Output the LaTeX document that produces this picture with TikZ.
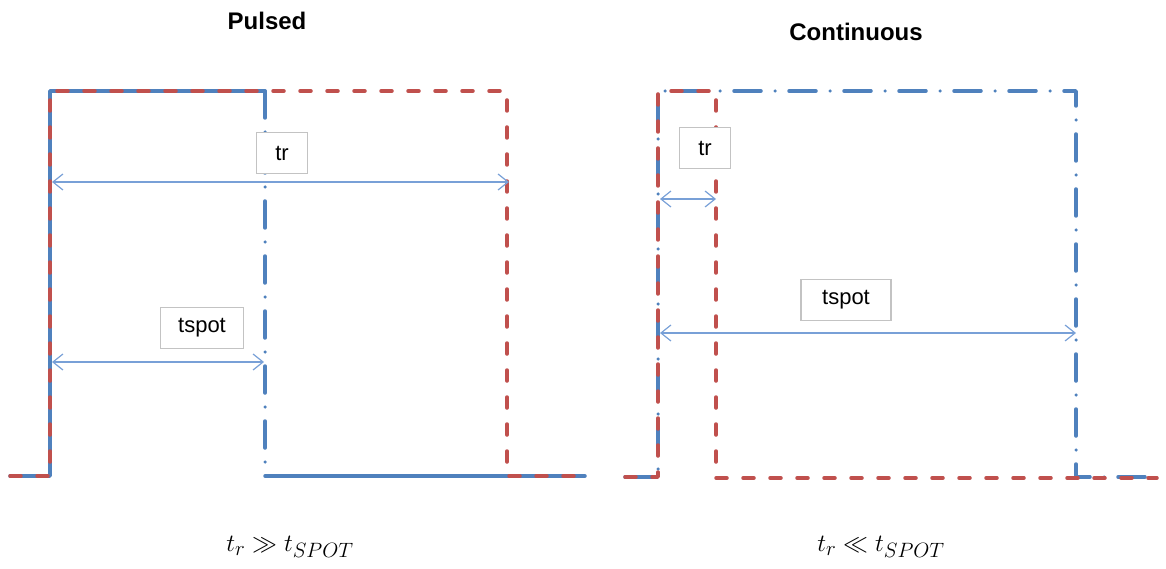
\documentclass[tikz,border=0pt]{standalone}
\usepackage{fontspec}
\setmainfont{Liberation Sans}
\usetikzlibrary{arrows.meta}
\definecolor{sigblue}{RGB}{79,129,189}
\definecolor{sigred}{RGB}{192,80,77}
\definecolor{arrblue}{RGB}{120,160,215}
\definecolor{boxgray}{RGB}{195,195,195}
\tikzset{
  blueline/.style={sigblue,line width=3.5pt,line cap=round,line join=round},
  bluedashdot/.style={blueline,dash pattern=on 27pt off 14pt on 0pt off 14pt},
  reddash/.style={sigred,line width=3.5pt,line cap=round,line join=round,dash pattern=on 11pt off 16pt},
  dimarrow/.style={arrblue,line width=1.2pt,{Straight Barb[length=10pt,width=16pt]}-{Straight Barb[length=10pt,width=16pt]}},
  labelbox/.style={draw=boxgray,line width=1.2pt,fill=white,font=\fontsize{22}{24}\selectfont,minimum height=41pt,inner sep=0pt},
  titletext/.style={font=\fontsize{24}{28}\selectfont\bfseries},
  mathtext/.style={font=\fontsize{29}{32}\selectfont}
}
\begin{document}
\begin{tikzpicture}[x=1pt,y=-1pt]
\useasboundingbox (0,0) rectangle (1166,569);
% ---------------- Pulsed ----------------
\node[titletext] (tpulsed) at (267,21) {Pulsed};
\draw[blueline] (10,476) -- (50,476) -- (50,91) -- (265,91);
\draw[bluedashdot] (265,91) -- (265,476);
\draw[blueline] (265,476) -- (585,476);
\draw[reddash] (10,476) -- (50,476) -- (50,91) -- (507,91) -- (507,476) -- (585,476);
\coordinate (ptrL) at (52,182);
\coordinate (ptrR) at (509,182);
\coordinate (pspL) at (52,362);
\coordinate (pspR) at (264,362);
\node[labelbox,minimum width=51pt] (ptr) at (282,153) {tr};
\node[labelbox,minimum width=83pt] (psp) at (202,328) {tspot};
\draw[dimarrow] (ptrL) -- (ptrR);
\draw[dimarrow] (pspL) -- (pspR);
\node[mathtext] (fpulsed) at (290,547) {$t_r \gg t_{SPOT}$};
% ---------------- Continuous ----------------
\node[titletext] (tcont) at (856,32) {Continuous};
\draw[bluedashdot] (625,477) -- (658,477) -- (658,91) -- (1076,91) -- (1076,477) -- (1157,477);
\draw[reddash] (625,477) -- (658,477) -- (658,91) -- (716,91) -- (716,478) -- (1157,478);
\coordinate (ctrL) at (660,199);
\coordinate (ctrR) at (716,199);
\coordinate (cspL) at (660,333);
\coordinate (cspR) at (1076,333);
\node[labelbox,minimum width=51pt] (ctr) at (705,148) {tr};
\node[labelbox,minimum width=90pt] (csp) at (846,300) {tspot};
\draw[dimarrow] (ctrL) -- (ctrR);
\draw[dimarrow] (cspL) -- (cspR);
\node[mathtext] (fcont) at (881,547) {$t_r \ll t_{SPOT}$};
\end{tikzpicture}
\end{document}
